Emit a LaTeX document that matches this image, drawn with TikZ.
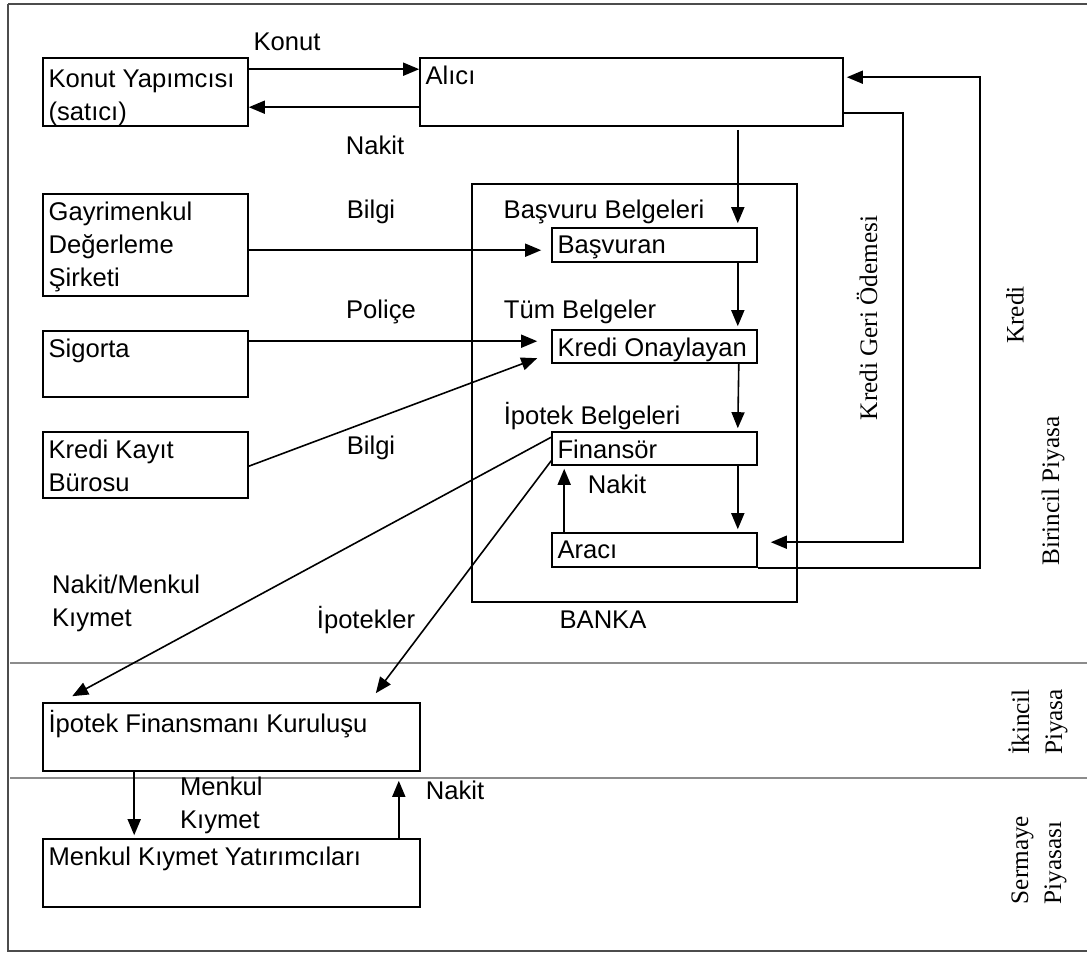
\documentclass[tikz,border=0pt]{standalone}
\usepackage{fontspec}
\setmainfont{Liberation Sans}
\newfontfamily\serifyazi{Liberation Serif}
\usetikzlibrary{arrows.meta, calc, fit}

\tikzset{
  kutu/.style={draw, line width=0.8pt, inner sep=0pt},
  ic/.style={anchor=north west, align=left, inner xsep=3pt, inner ysep=4pt},
  ok/.style={line width=0.8pt, -{Triangle[length=8pt, width=6.5pt]}},
  hat/.style={line width=0.8pt},
  ayrac/.style={line width=1pt, black!45},
  dikey/.style={rotate=90, align=left, font=\serifyazi\fontsize{12.6}{16.5}\selectfont},
}

\begin{document}
\begin{tikzpicture}[x=0.5pt, y=-0.5pt, font=\fontsize{12.8}{16.5}\selectfont]
        \useasboundingbox (0,0) rectangle (1087,953);

        % Outer frame and market separators
        \draw [line width=1pt, black!70] (8,4) -- (1120,4);
        \draw [line width=1pt, black!70] (8,4) -- (8,951) -- (1120,951);
        \draw [ayrac] (10,663) -- (1120,663);
        \draw [ayrac] (10,778) -- (1120,778);

        % Left column boxes
        \node [kutu, fit={(43,58) (248,126)}, label={[ic, inner ysep=6pt]north west:{Konut Yapımcısı\\(satıcı)}}] (konut) {};
        \node [kutu, fit={(43,194) (248,296)}, label={[ic]north west:{Gayrimenkul\\Değerleme\\Şirketi}}] (gayrimenkul) {};
        \node [kutu, fit={(43,331) (248,397)}, label={[ic]north west:Sigorta}] (sigorta) {};
        \node [kutu, fit={(43,432) (248,498)}, label={[ic]north west:{Kredi Kayıt\\Bürosu}}] (kkb) {};

        % Buyer
        \node [kutu, fit={(420,58) (843,126)}, label={[ic]north west:Alıcı}] (alici) {};

        % Bank and its units
        \node [kutu, fit={(472,184) (797,602)}] (banka) {};
        \node [kutu, fit={(552,228) (757,262)}, label={[ic]north west:Başvuran}] (basvuran) {};
        \node [kutu, fit={(552,330) (757,363)}, label={[ic]north west:Kredi Onaylayan}] (onay) {};
        \node [kutu, fit={(552,432) (757,465)}, label={[ic]north west:Finansör}] (finansor) {};
        \node [kutu, fit={(552,533) (757,567)}, label={[ic]north west:Aracı}] (araci) {};

        % Lower markets
        \node [kutu, fit={(43,703) (420,771)}, label={[ic]north west:İpotek Finansmanı Kuruluşu}] (ifk) {};
        \node [kutu, fit={(43,839) (420,907)}, label={[ic]north west:Menkul Kıymet Yatırımcıları}] (mky) {};

        % Arrows between builder and buyer
        \draw [ok] ($(konut.north east)+(0,12)$) -- ($(alici.north west)+(0,12)$);
        \draw [ok] ($(alici.north west)+(0,50)$) -- ($(konut.north east)+(0,50)$);

        % Arrows into the bank
        \draw [ok] ($(alici.south east)+(-106,3)$) -- ($(basvuran.north east)+(-20,-4)$);
        \draw [ok] ($(gayrimenkul.north east)+(0,57)$) -- ($(basvuran.north west)+(-10,23)$);
        \draw [ok] ($(sigorta.north east)+(0,11)$) -- ($(onay.north west)+(-14,12)$);
        \draw [ok] ($(kkb.north east)+(0,35)$) -- ($(onay.north west)+(-14,29)$);

        % Flow inside the bank
        \draw [ok] ($(basvuran.south east)+(-20,0)$) -- ($(onay.north east)+(-20,-3)$);
        \draw [ok] ($(onay.south east)+(-19,0)$) -- ($(finansor.north east)+(-20,-3)$);
        \draw [ok] ($(finansor.south east)+(-20,0)$) -- ($(araci.north east)+(-20,-3)$);
        \draw [ok] ($(araci.north west)+(13,0)$) -- ($(finansor.south west)+(13,3)$);

        % Credit loops on the right
        \draw [ok] ($(alici.north east)+(0,56)$) -| ($(araci.north east)+(145,10)$) -- ($(araci.north east)+(13,10)$);
        \draw [ok] (araci.south east) -| ($(alici.north east)+(136,20)$) -- ($(alici.north east)+(3,20)$);

        % Secondary and capital markets
        \draw [ok] ($(finansor.north west)+(0,6)$) -- ($(ifk.north west)+(30,-6)$);
        \draw [ok] ($(finansor.south west)+(0,-5)$) -- ($(ifk.north east)+(-45,-9)$);
        \draw [ok] ($(ifk.south west)+(92,0)$) -- ($(mky.north west)+(92,-3)$);
        \draw [ok] ($(mky.north east)+(-22,0)$) -- ($(ifk.south east)+(-22,9)$);

        % Flow labels
        \node (lkonut) at (287,42) {Konut};
        \node (lnakit1) at (375,145) {Nakit};
        \node (lbilgi1) at (371,212) {Bilgi};
        \node (lpolice) at (381,312) {Poliçe};
        \node (lbilgi2) at (371,448) {Bilgi};
        \node (lbasvuru) at (604,212) {Başvuru Belgeleri};
        \node (ltum) at (580,312) {Tüm Belgeler};
        \node (lipotekb) at (592,416) {İpotek Belgeleri};
        \node (lnakit2) at (617,484) {Nakit};
        \node (lbanka) at (603,620) {BANKA};
        \node [anchor=west, align=left] (lnakitmk) at (45,603) {Nakit/Menkul\\Kıymet};
        \node (lipotekler) at (366,620) {İpotekler};
        \node [anchor=west, align=left] (lmenkul) at (173,805) {Menkul\\Kıymet};
        \node (lnakit3) at (455,790) {Nakit};

        % Rotated market labels
        \node [dikey] (lgeri) at (867,318) {Kredi Geri Ödemesi};
        \node [dikey] (lkredi) at (1015,315) {Kredi};
        \node [dikey] (lbirincil) at (1053,491) {Birincil Piyasa};
        \node [dikey] (likincil) at (1038,722) {İkincil\\Piyasa};
        \node [dikey] (lsermaye) at (1039,860) {Sermaye\\Piyasası};
\end{tikzpicture}
\end{document}
